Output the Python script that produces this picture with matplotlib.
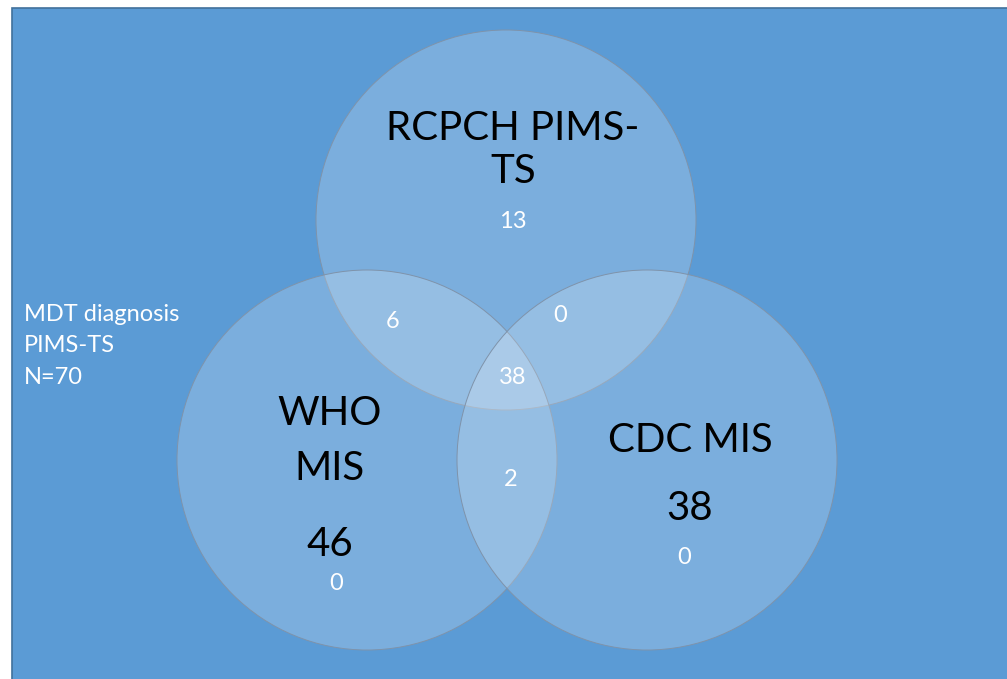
import matplotlib.pyplot as plt
from matplotlib.patches import Circle, Rectangle

plt.rcParams['font.family'] = ['Lato', 'DejaVu Sans']

# sets and region counts
set_names = ['RCPCH PIMS-\nTS', 'WHO\nMIS', 'CDC MIS']
set_totals = ['', '46', '38']
region_labels = ['13', '6', '0', '38', '2', '0', '0']
note = 'MDT diagnosis\nPIMS-TS\nN=70'

bg = '#5B9BD5'

fig = plt.figure(figsize=(10.07, 6.79), dpi=100)
ax = fig.add_axes([0, 0, 1, 1])
ax.set_xlim(0, 1007)
ax.set_ylim(679, 0)
ax.axis('off')

ax.add_patch(Rectangle((12, 8), 1010, 690, facecolor=bg, edgecolor='#41719C', lw=1.2))

centers = [(506, 220), (367, 460), (647, 460)]
r = 190
for c in centers:
    ax.add_patch(Circle(c, r, facecolor='white', alpha=0.2, edgecolor='none'))
    ax.add_patch(Circle(c, r, facecolor='none', edgecolor='#7F93AA', lw=0.7))

# set titles
ax.text(513, 150, set_names[0], ha='center', va='center', fontsize=29, color='black', linespacing=1.2)
ax.text(330, 441, set_names[1], ha='center', va='center', fontsize=29, color='black', linespacing=1.6)
ax.text(330, 545, set_totals[1], ha='center', va='center', fontsize=29, color='black')
ax.text(690, 440, set_names[2], ha='center', va='center', fontsize=29, color='black')
ax.text(690, 508, set_totals[2], ha='center', va='center', fontsize=29, color='black')

# region counts
region_pos = [(513, 222), (393, 322), (560, 316), (513, 377), (511, 480), (336, 584), (684, 558)]
for (x, y), lab in zip(region_pos, region_labels):
    ax.text(x, y, lab, ha='center', va='center', fontsize=17, color='white')

ax.text(24, 346, note, ha='left', va='center', fontsize=17, color='white', linespacing=1.6)

fig.savefig('out.png', dpi=100, facecolor='white')
